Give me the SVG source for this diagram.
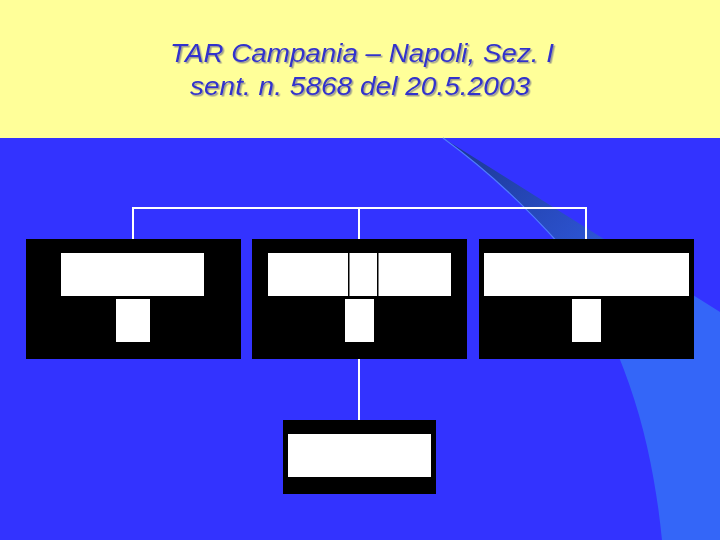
<svg xmlns="http://www.w3.org/2000/svg" width="720" height="540" viewBox="0 0 720 540">
<defs>
<linearGradient id="sw" x1="443" y1="138" x2="640" y2="330" gradientUnits="userSpaceOnUse">
<stop offset="0" stop-color="#1a3590"/>
<stop offset="0.55" stop-color="#2a4fc8"/>
<stop offset="1" stop-color="#3466f8"/>
</linearGradient>
<filter id="sh" x="-5%" y="-20%" width="110%" height="140%">
<feDropShadow dx="1.5" dy="1.5" stdDeviation="0.4" flood-color="#888888" flood-opacity="0.8"/>
</filter>
<style>
.t{font-family:"Liberation Sans",Arial,sans-serif;font-style:italic;font-size:25px;text-anchor:middle;fill:#3333cc;filter:url(#sh)}
.box{fill:#000}
.w{fill:#fff}
.con{stroke:#fff;stroke-width:2;fill:none}
</style>
</defs>
<rect x="0" y="0" width="720" height="540" fill="#3333ff"/>
<rect x="0" y="0" width="720" height="138" fill="#ffff99"/>
<path d="M443,138 L720,312 L720,540 L662,540 C652,440 628,350 560,245 C520,200 480,165 443,138 Z" fill="url(#sw)"/>
<path d="M443,138 C480,165 520,200 560,245" stroke="#4f7cff" stroke-width="1.2" fill="none"/>
<g id="title">
<text class="t" x="362" y="62" textLength="384" lengthAdjust="spacingAndGlyphs">TAR Campania – Napoli, Sez. I</text>
<text class="t" x="360" y="95" textLength="340" lengthAdjust="spacingAndGlyphs">sent. n. 5868 del 20.5.2003</text>
</g>
<g id="connectors">
<path class="con" d="M133,239 V208 H586 V239"/>
<path class="con" d="M359,208 V239"/>
<path class="con" d="M359,359 V420"/>
</g>
<g id="node1">
<rect class="box" x="26" y="239" width="215" height="120"/>
<rect class="w" x="61" y="253" width="143" height="43"/>
<rect class="w" x="116" y="299" width="34" height="43"/>
</g>
<g id="node2">
<rect class="box" x="252" y="239" width="215" height="120"/>
<rect class="w" x="268" y="253" width="183" height="43"/>
<rect class="box" x="348" y="253" width="1.5" height="43"/>
<rect class="box" x="377" y="253" width="1.5" height="43"/>
<rect class="w" x="345" y="299" width="29" height="43"/>
</g>
<g id="node3">
<rect class="box" x="479" y="239" width="215" height="120"/>
<rect class="w" x="484" y="253" width="205" height="43"/>
<rect class="w" x="572" y="299" width="29" height="43"/>
</g>
<g id="node4">
<rect class="box" x="283" y="420" width="153" height="74"/>
<rect class="w" x="288" y="434" width="143" height="43"/>
</g>
</svg>
